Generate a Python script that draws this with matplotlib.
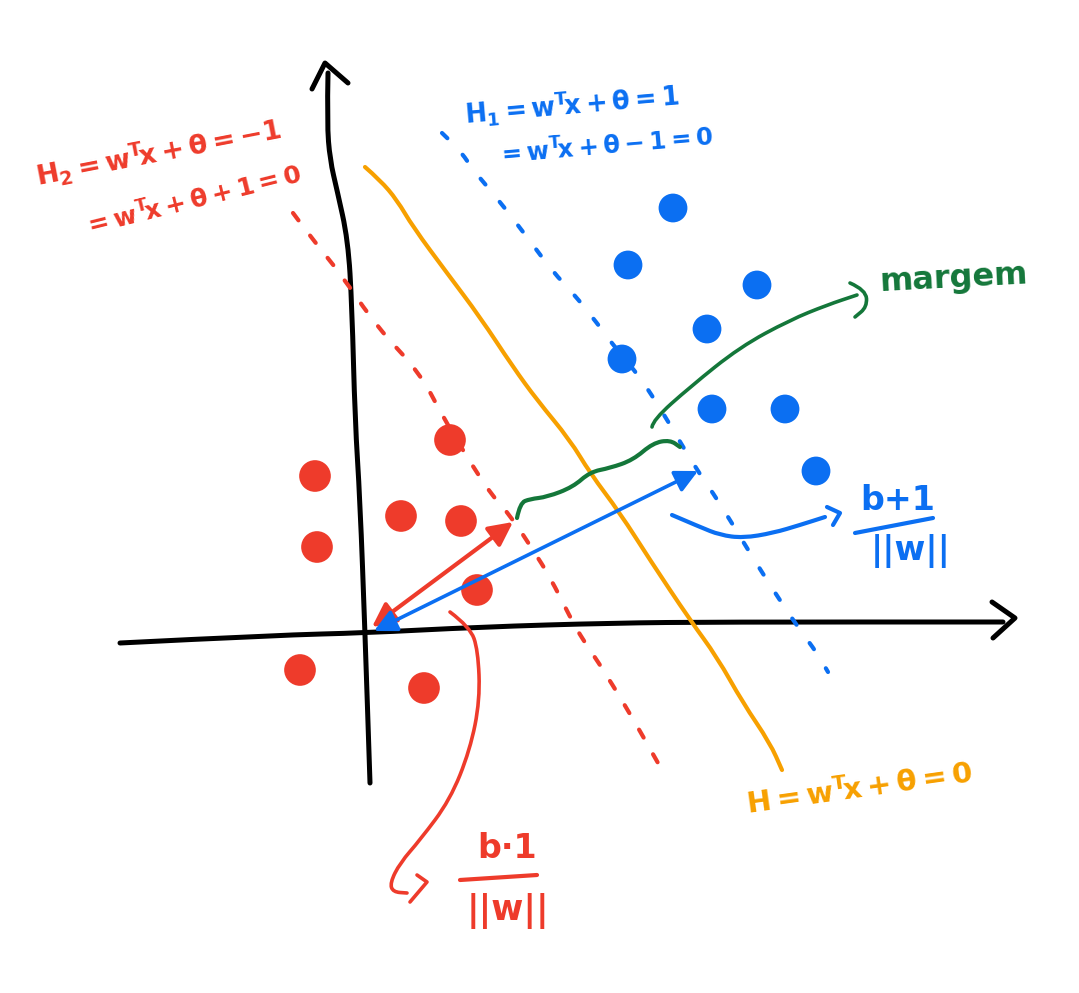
import numpy as np
import matplotlib
matplotlib.use('Agg')
import matplotlib.pyplot as plt
from matplotlib.path import Path
from matplotlib.patches import PathPatch

# colours of the sketch
RED = '#ee3b2b'
BLUE = '#0b6ff2'
ORANGE = '#f7a000'
GREEN = '#14773a'
BLACK = '#000000'

# data, in picture coordinates (x right, y down)
red_pts_x = [315, 317, 450, 401, 461, 477, 300, 424]
red_pts_y = [476, 547, 440, 516, 521, 590, 670, 688]
blue_pts_x = [673, 628, 757, 707, 622, 712, 785, 816]
blue_pts_y = [208, 265, 285, 329, 359, 409, 409, 471]

yaxis_x = [328, 327, 330, 337, 348, 352, 355, 360, 365, 370]
yaxis_y = [73, 123, 160, 190, 240, 307, 420, 500, 633, 783]
yhead_x = [312, 325, 348]
yhead_y = [89, 63, 83]
xaxis_x = [120, 280, 363, 480, 613, 720, 1003]
xaxis_y = [643, 635, 633, 627, 623, 622, 622]
xhead_x = [992, 1015, 993]
xhead_y = [602, 618, 638]

h_x = [365, 380, 397, 413, 447, 480, 513, 537, 570, 590, 620, 650, 690, 717, 743, 770, 782]
h_y = [167, 180, 200, 227, 273, 317, 367, 400, 440, 473, 513, 560, 620, 657, 703, 743, 770]
h2_x = [293, 313, 340, 377, 420, 443, 470, 493, 510, 533, 550, 570, 583, 597, 628, 658]
h2_y = [213, 240, 273, 327, 373, 417, 462, 497, 515, 550, 577, 617, 640, 660, 710, 763]
h1_x = [442, 460, 473, 497, 527, 553, 573, 597, 617, 640, 663, 673, 697, 713, 730, 750, 765, 783, 800, 817, 828]
h1_y = [133, 150, 170, 198, 237, 272, 293, 323, 350, 377, 413, 430, 470, 493, 520, 553, 577, 605, 630, 653, 672]

red_arrow = [(372, 627), (513, 522)]
blue_arrow = [(374, 631), (698, 471)]

brace_x = [517, 520, 530, 547, 573, 590, 610, 633, 653, 670, 680]
brace_y = [518, 503, 499, 497, 487, 472, 468, 460, 443, 440, 447]
marg_x = [652, 653, 690, 740, 790, 827, 857]
marg_y = [427, 420, 387, 347, 320, 305, 295]
marg_hook_x = [850, 866, 867, 855]
marg_hook_y = [283, 290, 307, 317]

bp1_x = [672, 700, 720, 743, 773, 800, 825]
bp1_y = [515, 527, 535, 538, 533, 525, 517]
bp1_hook_x = [827, 840, 833]
bp1_hook_y = [507, 513, 525]

bm1_x = [450, 470, 478, 480, 470, 450, 420, 400, 390, 393, 407]
bm1_y = [612, 627, 650, 700, 750, 800, 840, 863, 883, 892, 893]
bm1_hook_x = [417, 427, 410]
bm1_hook_y = [875, 882, 902]

# labels: text, centre x, centre y, rotation, colour, size
labels = [
    (r'$\mathregular{H_2 = w^T\!x + \theta = -1}$', 158, 152, 11, RED, 19.5),
    (r'$\mathregular{= w^T\!x + \theta + 1 = 0}$', 193, 201, 14, RED, 18),
    (r'$\mathregular{H_1 = w^T\!x + \theta = 1}$', 572, 104, 5, BLUE, 18.5),
    (r'$\mathregular{= w^T\!x + \theta - 1 = 0}$', 605, 147, 5, BLUE, 17.5),
    (r'$\mathregular{H = w^T\!x + \theta = 0}$', 860, 789, 8, ORANGE, 21),
    ('margem', 954, 279, 3, GREEN, 23),
    ('b+1', 898, 500, 0, BLUE, 24),
    ('||w||', 911, 551, 0, BLUE, 24),
    ('b·1', 507, 848, 0, RED, 24),
    ('||w||', 508, 911, 0, RED, 25),
]
bar_bp1 = [(855, 533), (933, 518)]
bar_bm1 = [(460, 880), (537, 875)]

fig = plt.figure(figsize=(10.79, 9.93), dpi=100)
ax = fig.add_axes([0, 0, 1, 1])
ax.set_xlim(0, 1079)
ax.set_ylim(993, 0)
ax.axis('off')


def stroke(xs, ys, color, lw, ls='-', z=2):
    # smooth pen stroke through the given points (quadratic bezier via midpoints)
    pts = list(zip(xs, ys))
    verts = [pts[0]]
    codes = [Path.MOVETO]
    for i in range(1, len(pts) - 1):
        mid = ((pts[i][0] + pts[i + 1][0]) / 2, (pts[i][1] + pts[i + 1][1]) / 2)
        verts += [pts[i], mid]
        codes += [Path.CURVE3, Path.CURVE3]
    verts.append(pts[-1])
    codes.append(Path.LINETO)
    p = PathPatch(Path(verts, codes), fill=False, edgecolor=color, lw=lw,
                  linestyle=ls, capstyle='round', joinstyle='round', zorder=z)
    ax.add_patch(p)


kw = dict(solid_capstyle='round', solid_joinstyle='round')

# axes
stroke(yaxis_x, yaxis_y, BLACK, 3.6)
ax.plot(yhead_x, yhead_y, color=BLACK, lw=3.6, **kw)
stroke(xaxis_x, xaxis_y, BLACK, 3.6)
ax.plot(xhead_x, xhead_y, color=BLACK, lw=3.6, **kw)

# hyperplanes
stroke(h_x, h_y, ORANGE, 3.0)
stroke(h2_x, h2_y, RED, 3.0, ls=(0, (2.2, 4.6)))
stroke(h1_x, h1_y, BLUE, 3.0, ls=(0, (1.8, 5.4)))

# points
ax.scatter(red_pts_x, red_pts_y, s=520, color=RED, edgecolors='none', zorder=3)
ax.scatter(blue_pts_x, blue_pts_y, s=430, color=BLUE, edgecolors='none', zorder=3)

# distance arrows
ax.annotate('', xy=red_arrow[1], xytext=red_arrow[0],
            arrowprops=dict(arrowstyle='<|-|>', color=RED, lw=3, mutation_scale=36,
                            shrinkA=0, shrinkB=0), zorder=4)
ax.annotate('', xy=blue_arrow[1], xytext=blue_arrow[0],
            arrowprops=dict(arrowstyle='<|-|>', color=BLUE, lw=2.6, mutation_scale=34,
                            shrinkA=0, shrinkB=0), zorder=4)

# margin brace and pointers
stroke(brace_x, brace_y, GREEN, 3.0)
stroke(marg_x, marg_y, GREEN, 2.6)
stroke(marg_hook_x, marg_hook_y, GREEN, 2.6)
stroke(bp1_x, bp1_y, BLUE, 3.0)
ax.plot(bp1_hook_x, bp1_hook_y, color=BLUE, lw=3.0, **kw)
stroke(bm1_x, bm1_y, RED, 2.6)
ax.plot(bm1_hook_x, bm1_hook_y, color=RED, lw=2.6, **kw)

# fraction bars
for bar, c in [(bar_bp1, BLUE), (bar_bm1, RED)]:
    ax.plot([bar[0][0], bar[1][0]], [bar[0][1], bar[1][1]], color=c, lw=3.0, **kw)

for txt, x, y, rot, c, fs in labels:
    ax.text(x, y, txt, color=c, fontsize=fs, rotation=rot, rotation_mode='anchor',
            ha='center', va='center', fontweight='bold')

fig.savefig('out.png', dpi=100)
